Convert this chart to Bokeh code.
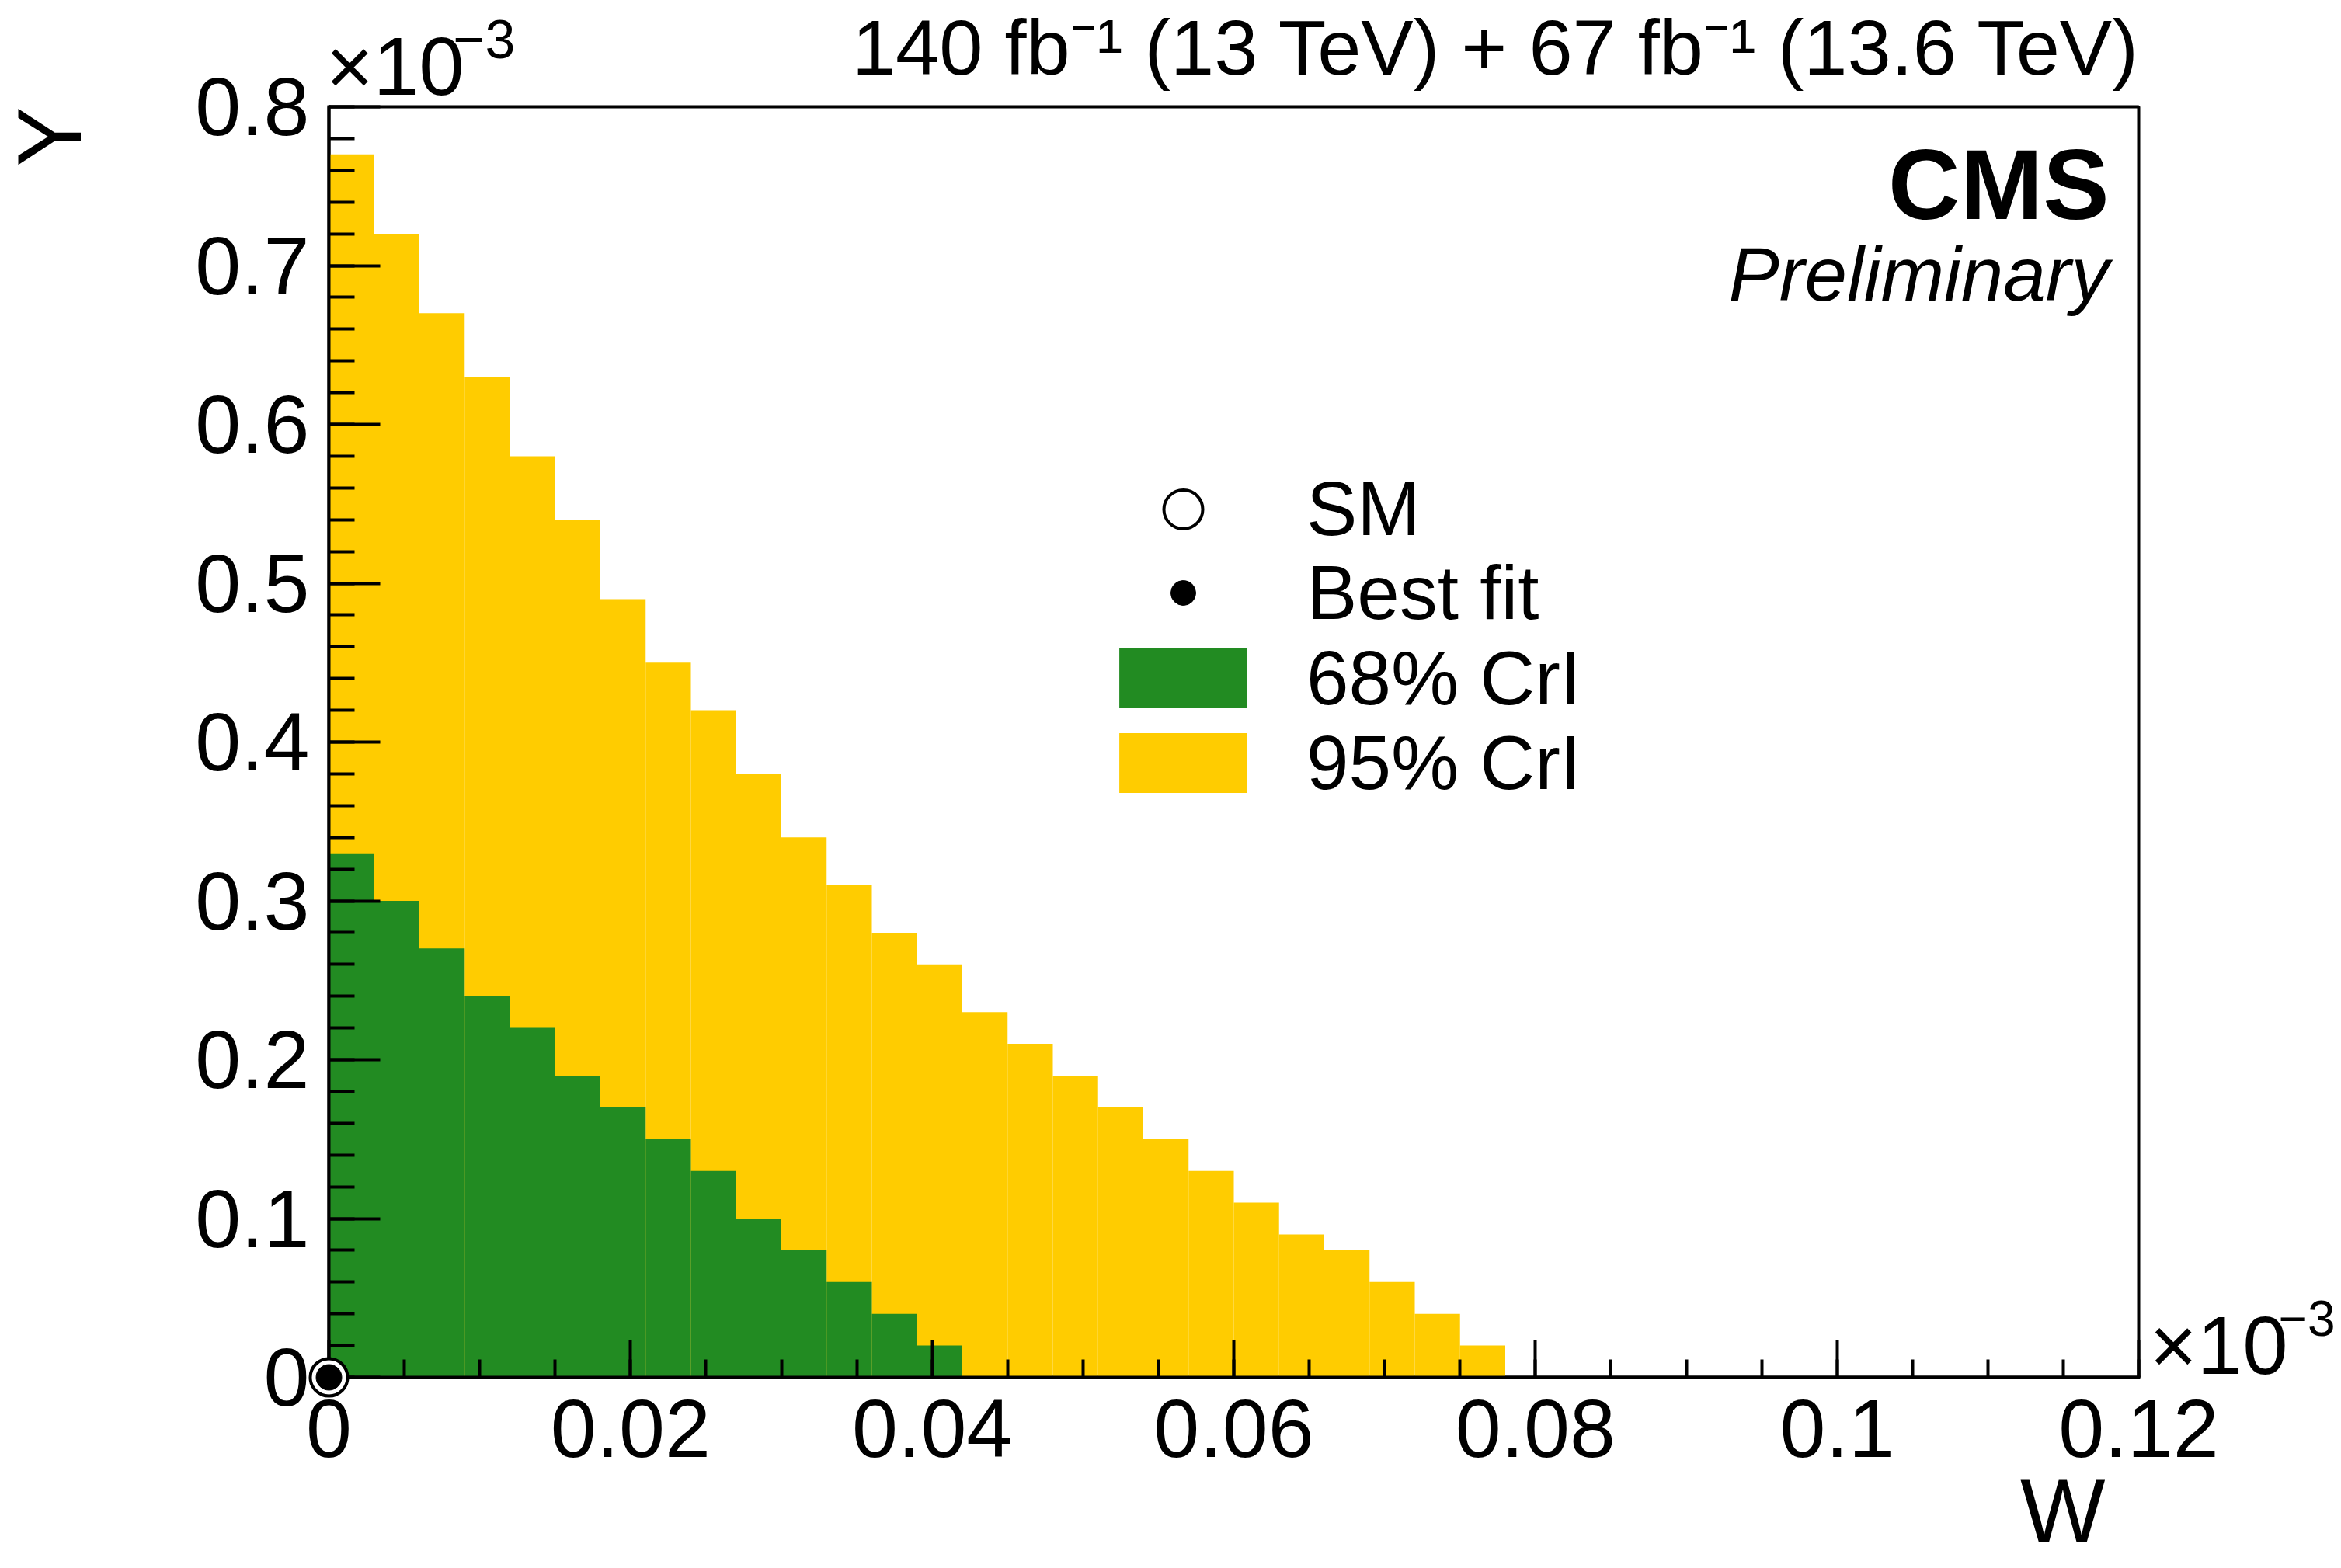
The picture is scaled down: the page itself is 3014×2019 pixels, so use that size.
import numpy as np
from bokeh.plotting import figure
from bokeh.models import (Range1d, FixedTicker, CustomJSTickFormatter,
                          Legend, LegendItem, ColumnDataSource)
from bokeh.core.properties import value
from bokeh.embed import file_html
from bokeh.resources import INLINE

# ---------------- data (W and Y in units of 10^-3) ----------------
bin_width = 0.003
y_top_95 = [0.77, 0.72, 0.67, 0.63, 0.58, 0.54, 0.49, 0.45, 0.42, 0.38, 0.34, 0.31, 0.28,
            0.26, 0.23, 0.21, 0.19, 0.17, 0.15, 0.13, 0.11, 0.09, 0.08, 0.06, 0.04, 0.02]
y_top_68 = [0.33, 0.30, 0.27, 0.24, 0.22, 0.19, 0.17, 0.15, 0.13, 0.10, 0.08, 0.06, 0.04, 0.02]
sm_w, sm_y = [0.0], [0.0]
bf_w, bf_y = [0.0], [0.0]
x_ticks = [0.0, 0.02, 0.04, 0.06, 0.08, 0.10, 0.12]
x_minor = [0.005 * i for i in range(25)]
y_ticks = [0.0, 0.1, 0.2, 0.3, 0.4, 0.5, 0.6, 0.7, 0.8]
y_minor = [0.02 * i for i in range(41)]
x_max, y_max = 0.12, 0.8

# ---------------- geometry ----------------
FIG_W, FIG_H = 3006, 2011
X0, X1 = 423, 2753      # pixel of W=0, W=0.12
Y1, Y0 = 137, 1773      # pixel of Y=0.8, Y=0
FONT = "Liberation Sans"
KX = x_max / (X1 - X0)
KY = y_max / (Y0 - Y1)
BASE_FIX = 0.36         # renderer puts the anchor ~0.36 em above the baseline

def hist_source(tops):
    lefts = np.arange(len(tops)) * bin_width
    return ColumnDataSource(dict(left=lefts, right=lefts + bin_width,
                                 top=tops, bottom=np.zeros(len(tops))))

p = figure(width=FIG_W, height=FIG_H, output_backend="svg", toolbar_location=None,
           x_range=Range1d(0, x_max), y_range=Range1d(0, y_max),
           min_border_left=X0, min_border_right=FIG_W - X1,
           min_border_top=Y1, min_border_bottom=FIG_H - Y0,
           background_fill_color="white", border_fill_color="white")
p.outline_line_color = "black"
p.outline_line_width = 4
p.xgrid.visible = False
p.ygrid.visible = False

r95 = p.quad(left="left", right="right", top="top", bottom="bottom",
             source=hist_source(y_top_95), fill_color="#FFCC00", line_color=None)
r68 = p.quad(left="left", right="right", top="top", bottom="bottom",
             source=hist_source(y_top_68), fill_color="#228B22", line_color=None)
rsm = p.scatter(sm_w, sm_y, marker="circle", size=48, fill_color="white",
                line_color="black", line_width=4, level="overlay")
rbf = p.scatter(bf_w, bf_y, marker="circle", size=33, fill_color="black",
                line_color="black", line_width=1, level="overlay")

# ---------------- axes ----------------
xa = p.xaxis[0]
ya = p.yaxis[0]
xa.ticker = FixedTicker(ticks=x_ticks, minor_ticks=x_minor)
ya.ticker = FixedTicker(ticks=y_ticks, minor_ticks=y_minor)
xa.formatter = CustomJSTickFormatter(code="return tick.toFixed(2).replace(/\\.?0+$/, '');")
ya.formatter = CustomJSTickFormatter(code="return tick.toFixed(1).replace(/\\.?0+$/, '');")
for ax, maj, mnr, stand in ((xa, 48, 23, 29), (ya, 66, 33, 25)):
    ax.axis_line_width = 4
    ax.axis_line_cap = "square"
    ax.major_tick_in = maj
    ax.major_tick_out = 0
    ax.minor_tick_in = mnr
    ax.minor_tick_out = 0
    ax.major_tick_line_width = 4
    ax.minor_tick_line_width = 4
    ax.major_label_text_font = FONT
    ax.major_label_text_font_size = "106px"
    ax.major_label_text_color = "black"
    ax.major_label_standoff = stand

# ---------------- texts (baseline pixel offsets from a data anchor, +dy = up) ----------------
def txt(text, ax, ay, dx, dy, size, align="left", style="normal", angle=0.0):
    c = BASE_FIX * size
    dx = dx - np.sin(angle) * c
    dy = dy + np.cos(angle) * c
    p.text(x=[ax + dx * KX], y=[ay + dy * KY], text=[text],
           text_font=value(FONT), text_font_size=value(f"{size}px"), text_align=align,
           text_baseline="alphabetic", text_font_style=style, text_color="black",
           angle=angle, level="overlay")

txt("140 fb\u207b\u00b9 (13 TeV) + 67 fb\u207b\u00b9 (13.6 TeV)", x_max, y_max, 3, 40, 101, "right")
txt("CMS", x_max, y_max, -38, -146, 128, "right", "bold")
txt("Preliminary", x_max, y_max, -38, -251, 98, "right", "italic")
txt("\u00d710", 0, y_max, -4, 14, 105)
txt("\u22123", 0, y_max, 160, 62, 70)
txt("\u00d710", x_max, 0, 14, 3, 105)
txt("\u22123", x_max, 0, 180, 53, 64)
txt("W", x_max, 0, -43, -214, 116, "right")
txt("Y", 0, y_max, -318, 0, 116, "right", angle=np.pi / 2)

# ---------------- legend (one block per row) ----------------
def add_legend(label, renderer, glyph_h, loc_y):
    lg = Legend(items=[LegendItem(label=label, renderers=[renderer])],
                location=(997, loc_y), glyph_width=206, glyph_height=glyph_h,
                label_height=130, label_standoff=56, spacing=0, padding=0, margin=0,
                label_text_font=FONT, label_text_font_size="98px",
                label_text_color="black",
                border_line_color=None, background_fill_alpha=0)
    p.add_layout(lg)

add_legend("SM", rsm, 125, 1053)
add_legend("Best fit", rbf, 80, 945)
add_legend("68% CrI", r68, 96, 835)
add_legend("95% CrI", r95, 96, 726)

open("out.html", "w").write(file_html(p, INLINE))
